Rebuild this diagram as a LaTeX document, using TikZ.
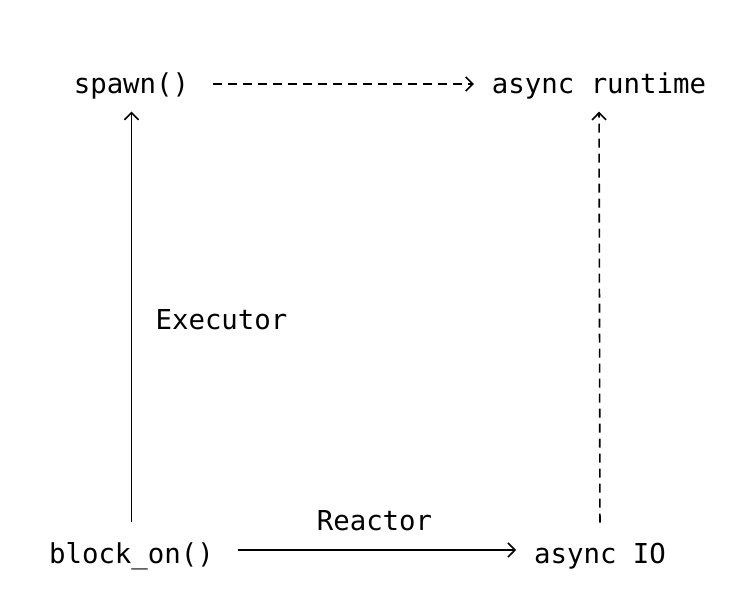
\documentclass[tikz,border=0pt]{standalone}
\usepackage{fontspec}
\usetikzlibrary{arrows.meta}
\setmonofont{DejaVu Sans Mono}
\begin{document}
\begin{tikzpicture}[x=1pt,y=-1pt,
  lbl/.style={font=\fontsize{27.4}{32}\selectfont\ttfamily, inner sep=0pt, outer sep=0pt, anchor=base},
  conn/.style={-{Straight Barb[length=7pt,width=14pt,line width=1.6pt]}, line width=1.6pt},
  dsh/.style={dash pattern=on 9pt off 6pt}]
\useasboundingbox[fill=white] (0,0) rectangle (743,607);
\node[lbl] (spawn) at (131.5,94) {spawn()};
\node[lbl] (rt) at (599,94) {async runtime};
\node[lbl] (block) at (131.5,563) {block\_on()};
\node[lbl] (io) at (600,563) {async IO};
\node[lbl] (exec) at (221.5,329) {Executor};
\node[lbl] (react) at (374.5,530) {Reactor};
\draw[conn, dsh, shorten <=24pt, shorten >=18pt]
  ([yshift=10pt]spawn.base east) -- ([yshift=10pt]rt.base west);
\draw[conn, shorten <=24pt, shorten >=18pt]
  ([yshift=13pt]block.base east) -- ([yshift=13pt]io.base west);
\draw[conn, shorten <=20pt, shorten >=12pt] (block.north) -- (spawn.south);
\draw[conn, dsh, shorten <=20pt, shorten >=12pt] (io.north) -- (rt.south);
\end{tikzpicture}
\end{document}
